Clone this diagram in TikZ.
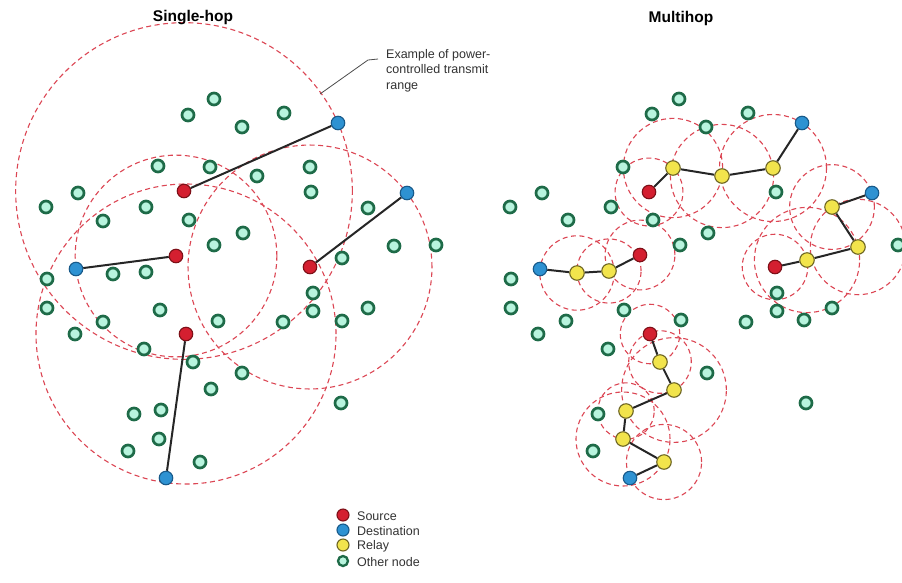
\documentclass[tikz,border=0pt]{standalone}
\usepackage{fontspec}
\setmainfont{Liberation Sans}
\usetikzlibrary{calc,backgrounds}
\definecolor{ogreen}{HTML}{1E6B48}
\definecolor{omint}{HTML}{B8F4DE}
\definecolor{sred}{HTML}{D41F30}
\definecolor{sredd}{HTML}{7E1018}
\definecolor{dblue}{HTML}{2E92D2}
\definecolor{dblued}{HTML}{185A8A}
\definecolor{ryel}{HTML}{F2E44C}
\definecolor{ryeld}{HTML}{6E6622}
\definecolor{rangecol}{HTML}{DC4654}
\definecolor{txtgray}{HTML}{333333}
\tikzset{
  othernode/.style={circle,draw=ogreen,line width=2.7pt,fill=omint,minimum size=12pt,inner sep=0pt},
  srcnode/.style={circle,draw=sredd,line width=1.1pt,fill=sred,minimum size=13.5pt,inner sep=0pt},
  dstnode/.style={circle,draw=dblued,line width=1.1pt,fill=dblue,minimum size=13.5pt,inner sep=0pt},
  relaynode/.style={circle,draw=ryeld,line width=1.1pt,fill=ryel,minimum size=14.5pt,inner sep=0pt},
  link/.style={draw=black!85,line width=2pt},
  rangec/.style={draw=rangecol,line width=1.1pt,dash pattern=on 5pt off 3.5pt},
  ttl/.style={font=\fontsize{15.5}{17}\selectfont\bfseries},
  legtext/.style={font=\fontsize{12.5}{14}\selectfont,text=txtgray,anchor=west,inner sep=0pt}
}
\newcommand\rangecirc[2]{\draw[rangec] let \p1=($(#2)-(#1)$), \n1={veclen(\x1,\y1)} in (#1) circle (\n1);}
\begin{document}
\begin{tikzpicture}[x=1pt,y=-1pt]
\useasboundingbox (0,0) rectangle (902,582);

% titles
\node[ttl] (t1) at (193,18) {Single-hop};
\node[ttl] (t2) at (681,18) {Multihop};

% annotation
\node[anchor=north west,align=left,inner sep=0pt,font=\fontsize{12.5}{15.5}\selectfont,text=txtgray] (ann) at (386,49) {Example of power-\\controlled transmit\\range};
\coordinate (lp) at (320,94);
\coordinate (lk) at (368,60);

% ---------- left panel: other nodes ----------
\foreach \x/\y [count=\i] in {214/99,188/115,242/127,284/113,158/166,210/167,257/176,310/167,311/192,
  78/193,46/207,146/207,103/221,189/220,214/245,243/233,368/208,394/246,436/245,342/258,
  47/279,113/274,146/272,47/308,160/310,103/322,75/334,218/321,144/349,193/362,211/389,
  134/414,161/410,159/439,128/451,200/462,313/293,313/311,283/322,342/321,368/308,242/373,341/403}
  \node[othernode] (L\i) at (\x,\y) {};
\node[srcnode] (ls1) at (184,191) {};
\node[srcnode] (ls2) at (176,256) {};
\node[srcnode] (ls3) at (310,267) {};
\node[srcnode] (ls4) at (186,334) {};
\node[dstnode] (ld1) at (338,123) {};
\node[dstnode] (ld2) at (76,269) {};
\node[dstnode] (ld3) at (407,193) {};
\node[dstnode] (ld4) at (166,478) {};

% ---------- right panel: other nodes ----------
\foreach \x/\y [count=\i] in {679/99,652/114,706/127,748/113,623/167,776/192,542/193,510/207,611/207,
  568/220,653/220,708/233,680/245,898/245,511/279,511/308,566/321,538/334,624/310,681/320,608/349,
  707/373,598/414,593/451,777/293,777/311,746/322,804/320,832/308,806/403}
  \node[othernode] (R\i) at (\x,\y) {};
% path 1
\node[srcnode] (a0) at (649,192) {};
\node[relaynode] (a1) at (673,168) {};
\node[relaynode] (a2) at (722,176) {};
\node[relaynode] (a3) at (773,168) {};
\node[dstnode] (a4) at (802,123) {};
% path 2
\node[srcnode] (b0) at (640,255) {};
\node[relaynode] (b1) at (609,271) {};
\node[relaynode] (b2) at (577,273) {};
\node[dstnode] (b3) at (540,269) {};
% path 3
\node[srcnode] (c0) at (775,267) {};
\node[relaynode] (c1) at (807,260) {};
\node[relaynode] (c2) at (858,247) {};
\node[relaynode] (c3) at (832,207) {};
\node[dstnode] (c4) at (872,193) {};
% path 4
\node[srcnode] (d0) at (650,334) {};
\node[relaynode] (d1) at (660,362) {};
\node[relaynode] (d2) at (674,390) {};
\node[relaynode] (d3) at (626,411) {};
\node[relaynode] (d4) at (623,439) {};
\node[relaynode] (d5) at (664,462) {};
\node[dstnode] (d6) at (630,478) {};

% legend
\node[srcnode,minimum size=12pt] (k1) at (343,515) {};
\node[dstnode,minimum size=12pt] (k2) at (343,530) {};
\node[relaynode,minimum size=12pt] (k3) at (343,545) {};
\node[othernode,minimum size=10pt,line width=2.3pt] (k4) at (343,561) {};
\node[legtext] (kt1) at (357,516) {Source};
\node[legtext] (kt2) at (357,531) {Destination};
\node[legtext] (kt3) at (357,546) {Relay};
\node[legtext] (kt4) at (357,562) {Other node};

\begin{pgfonlayer}{background}
  \fill[white] (0,0) rectangle (902,582);
  % left ranges
  \rangecirc{ls1}{ld1}
  \rangecirc{ls2}{ld2}
  \rangecirc{ls3}{ld3}
  \draw[rangec] (ls4) circle (150pt);
  % right ranges
  \rangecirc{a0}{a1}\rangecirc{a1}{a2}\rangecirc{a2}{a3}\rangecirc{a3}{a4}
  \rangecirc{b0}{b1}\rangecirc{b1}{b2}\rangecirc{b2}{b3}
  \rangecirc{c0}{c1}\rangecirc{c1}{c2}\rangecirc{c2}{c3}\rangecirc{c3}{c4}
  \rangecirc{d0}{d1}\rangecirc{d1}{d2}\rangecirc{d2}{d3}\rangecirc{d3}{d4}\rangecirc{d4}{d5}\rangecirc{d5}{d6}
  % links
  \draw[link] (ls1) -- (ld1);
  \draw[link] (ls2) -- (ld2);
  \draw[link] (ls3) -- (ld3);
  \draw[link] (ls4) -- (ld4);
  \draw[link] (a0) -- (a1) -- (a2) -- (a3) -- (a4);
  \draw[link] (b0) -- (b1) -- (b2) -- (b3);
  \draw[link] (c0) -- (c1) -- (c2) -- (c3) -- (c4);
  \draw[link] (d0) -- (d1) -- (d2) -- (d3) -- (d4) -- (d5) -- (d6);
  % leader
  \draw[black!70,line width=0.8pt] (lp) -- (lk) -- ([xshift=-8pt,yshift=1pt]ann.north west |- lk);
\end{pgfonlayer}
\end{tikzpicture}
\end{document}
